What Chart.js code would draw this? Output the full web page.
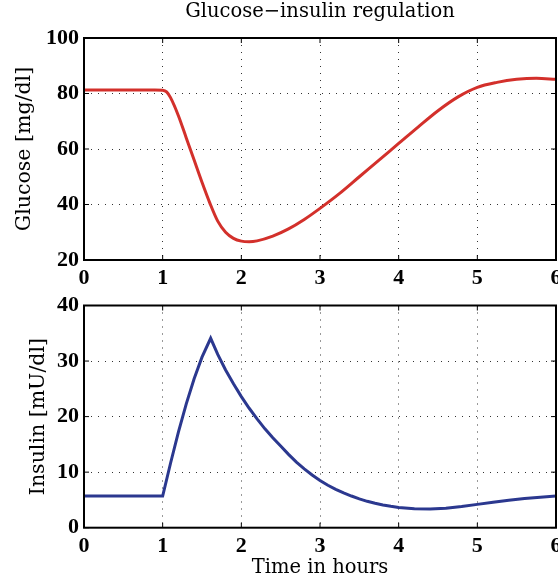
<!DOCTYPE html>
<html>
<head>
<meta charset="utf-8">
<script src="https://cdn.jsdelivr.net/npm/chart.js@4.4.1/dist/chart.umd.min.js"></script>
<style>
  body { margin: 0; background: #fff; overflow: hidden; }
  canvas { position: absolute; left: 0; }
  #glucoseChart { top: 0; }
  #insulinChart { top: 290px; }
</style>
</head>
<body>
<canvas id="glucoseChart" width="558" height="290"></canvas>
<canvas id="insulinChart" width="558" height="296"></canvas>
<script>
'use strict'

// glucose [mg/dl] vs time in hours
var glucoseTime = [0, 0.5, 0.9, 1.0, 1.05, 1.1, 1.2, 1.3, 1.4, 1.5, 1.6, 1.7, 1.8, 1.9, 2.0, 2.1, 2.2, 2.4, 2.6, 2.8,
  3.0, 3.25, 3.5, 3.75, 4.0, 4.25, 4.5, 4.75, 5.0, 5.25, 5.5, 5.75, 6.0];
var glucose = [81.3, 81.3, 81.3, 81.2, 80.6, 78.5, 72.0, 64.0, 56.0, 48.0, 40.5, 34.0, 30.0, 27.8, 26.8, 26.6, 26.9, 28.6, 31.2, 34.6,
  38.6, 44.0, 50.0, 56.0, 62.0, 68.0, 73.8, 78.7, 82.2, 84.0, 85.1, 85.5, 85.1];

// insulin [mU/dl] vs time in hours
var insulinTime = [0, 1.0, 1.1, 1.2, 1.3, 1.4, 1.5, 1.61, 1.7, 1.8, 1.9, 2.0, 2.1, 2.2, 2.3, 2.4, 2.5, 2.6, 2.7, 2.8, 2.9,
  3.0, 3.1, 3.2, 3.3, 3.4, 3.5, 3.6, 3.7, 3.8, 3.9, 4.0, 4.2, 4.4, 4.6, 4.8, 5.0, 5.2, 5.4, 5.6, 5.8, 6.0];
var insulin = [5.7, 5.7, 11.6, 17.2, 22.3, 26.8, 30.7, 34.1, 31.2, 28.4, 25.9, 23.6, 21.5, 19.6, 17.8, 16.2, 14.7, 13.2, 11.8, 10.6, 9.5,
  8.5, 7.65, 6.9, 6.25, 5.7, 5.2, 4.75, 4.4, 4.1, 3.85, 3.65, 3.4, 3.35, 3.5, 3.8, 4.2, 4.6, 4.95, 5.25, 5.5, 5.7];

var hourTicks = [0, 1, 2, 3, 4, 5, 6];
var glucoseTicks = [20, 40, 60, 80, 100];
var insulinTicks = [0, 10, 20, 30, 40];

var tickFont = { family: 'Liberation Serif', weight: 'bold', size: 22 };
var labelFont = { family: 'DejaVu Serif', weight: 'normal', size: 19.5 };
var yLabelFont = { family: 'DejaVu Serif', weight: 'normal', size: 20.5 };

function toPoints(t, v) {
  return t.map(function(x, i) { return { x: x, y: v[i] }; });
}

function setTicks(list) {
  return function(scale) {
    scale.ticks = list.map(function(v) { return { value: v }; });
  };
}

/*---- matlab style box with inward ticks ----*/
var framePlugin = {
  id: 'frame',
  afterDatasetsDraw: function(chart) {
    var ctx = chart.ctx, a = chart.chartArea, sx = chart.scales.x, sy = chart.scales.y;
    ctx.save();
    ctx.strokeStyle = '#000';
    ctx.lineWidth = 1;
    ctx.beginPath();
    sx.ticks.forEach(function(t) {
      var px = sx.getPixelForValue(t.value);
      ctx.moveTo(px, a.bottom); ctx.lineTo(px, a.bottom - 5);
      ctx.moveTo(px, a.top); ctx.lineTo(px, a.top + 5);
    });
    sy.ticks.forEach(function(t) {
      var py = sy.getPixelForValue(t.value);
      ctx.moveTo(a.left, py); ctx.lineTo(a.left + 5, py);
      ctx.moveTo(a.right, py); ctx.lineTo(a.right - 5, py);
    });
    ctx.stroke();
    ctx.lineWidth = 2;
    ctx.strokeRect(a.left, a.top, a.right - a.left, a.bottom - a.top);
    ctx.restore();
  }
};

function xAxis(height, title) {
  return {
    type: 'linear',
    min: 0,
    max: 6,
    afterBuildTicks: setTicks(hourTicks),
    grid: { color: '#333', lineWidth: 1, drawTicks: false },
    border: { display: false, dash: [1, 6] },
    ticks: { color: '#000', padding: 5, font: tickFont },
    title: {
      display: !!title,
      text: title || '',
      color: '#000',
      font: labelFont,
      padding: { top: 0, bottom: 6 }
    },
    afterFit: function(s) { s.height = height; s.paddingLeft = 0; s.paddingRight = 0; }
  };
}

function yAxis(min, max, ticks, title, titlePad) {
  return {
    min: min,
    max: max,
    afterBuildTicks: setTicks(ticks),
    grid: { color: '#333', lineWidth: 1, drawTicks: false },
    border: { display: false, dash: [1, 6] },
    ticks: { color: '#000', padding: 5, font: tickFont },
    title: {
      display: true,
      text: title,
      color: '#000',
      font: yLabelFont,
      padding: { top: titlePad, bottom: 0 }
    },
    afterFit: function(s) { s.width = 84; s.paddingTop = 0; s.paddingBottom = 0; }
  };
}

/*---- glucose ----*/
new Chart(document.getElementById('glucoseChart'), {
  type: 'line',
  data: {
    datasets: [{
      data: toPoints(glucoseTime, glucose),
      borderColor: '#d3302b',
      borderWidth: 3,
      pointRadius: 0,
      fill: false,
      cubicInterpolationMode: 'monotone'
    }]
  },
  options: {
    responsive: false,
    animation: false,
    devicePixelRatio: 1,
    layout: { padding: { top: 0, right: 2, bottom: 0, left: 0 } },
    plugins: {
      legend: { display: false },
      tooltip: { enabled: false },
      title: {
        display: true,
        text: 'Glucose\u2212insulin regulation',
        color: '#000',
        fullSize: false,
        font: labelFont,
        padding: { top: 0.5, bottom: 14.1 }
      }
    },
    scales: {
      x: xAxis(30, ''),
      y: yAxis(20, 100, glucoseTicks, 'Glucose [mg/dl]', 12.5)
    }
  },
  plugins: [framePlugin]
});

/*---- insulin ----*/
new Chart(document.getElementById('insulinChart'), {
  type: 'line',
  data: {
    datasets: [{
      data: toPoints(insulinTime, insulin),
      borderColor: '#2b388f',
      borderWidth: 3,
      pointRadius: 0,
      fill: false,
      tension: 0
    }]
  },
  options: {
    responsive: false,
    animation: false,
    devicePixelRatio: 1,
    layout: { padding: { top: 15.5, right: 2, bottom: 0, left: 0 } },
    plugins: {
      legend: { display: false },
      tooltip: { enabled: false }
    },
    scales: {
      x: xAxis(58.3, 'Time in hours'),
      y: yAxis(0, 40, insulinTicks, 'Insulin [mU/dl]', 26)
    }
  },
  plugins: [framePlugin]
});
</script>
</body>
</html>
